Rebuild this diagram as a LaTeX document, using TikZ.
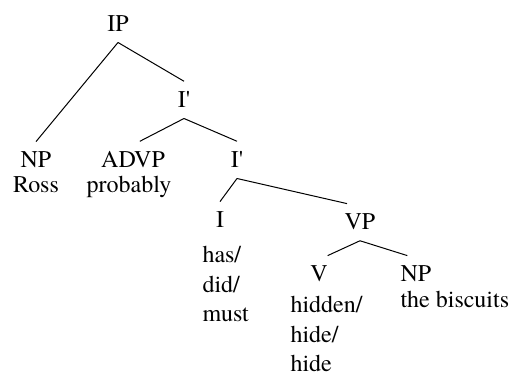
\documentclass[tikz,border=0pt]{standalone}
\usepackage{fontspec}
\setmainfont{TeX Gyre Termes}
\begin{document}
\begin{tikzpicture}[x=0.5pt, y=-0.5pt, line width=0.5pt,
    font=\fontsize{12}{14.75}\selectfont,
    kat/.style={anchor=base, inner sep=5pt},
    wort/.style={inner sep=0pt, align=left}]

  % Rahmen
  \useasboundingbox (0,0) rectangle (509,378);

  % Kategorien
  \node[kat] (ip)   at (118,32)  {IP};
  \node[kat] (ib1)  at (184,108) {I\textquotesingle};
  \node[kat] (np1)  at (36,168)  {NP};
  \node[kat] (advp) at (133,168) {ADVP};
  \node[kat] (ib2)  at (237,168) {I\textquotesingle};
  \node[kat] (i)    at (220,228) {I};
  \node[kat] (vp)   at (360,230) {VP};
  \node[kat] (v)    at (319,282) {V};
  \node[kat] (np2)  at (416,282) {NP};

  % Woerter
  \node[wort, anchor=base] (ross) at (36,193) {Ross};
  \node[wort, anchor=base] (prob) at (129,193) {probably};
  \node[wort, anchor=north west] (has) at (202,246) {has/\\did/\\must};
  \node[wort, anchor=north west] (hid) at (290,296) {hidden/\\hide/\\hide};
  \node[wort, anchor=base west] (bisc) at (400,308) {the biscuits};

  % Kanten
  \foreach \a/\b in {ip/np1.north, ip/ib1.north, ib1/advp.70, ib1/ib2.north,
                     ib2/i.north, ib2/vp.125, vp/v.65, vp/np2.115} {
      \draw (\a.south) -- (\b);
    }

\end{tikzpicture}
\end{document}
